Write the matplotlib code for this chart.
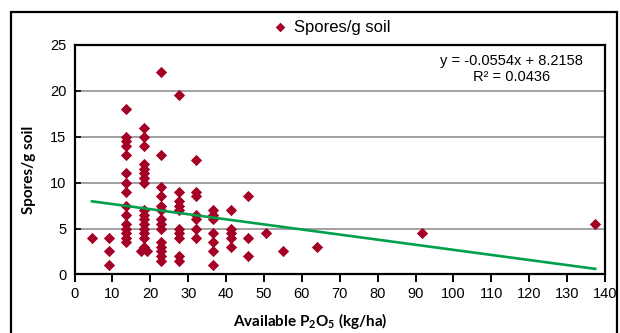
import matplotlib
matplotlib.use("Agg")
import matplotlib.pyplot as plt
from matplotlib.patches import Rectangle
import numpy as np

# available P2O5 (kg/ha) groups and spore counts
p2o5_levels = [4.6, 9.2, 13.7, 18.3, 22.9, 27.5, 32.0, 36.6, 41.2, 45.8,
               50.4, 55.0, 64.1, 91.6, 137.4]
spores_by_level = [
    [4],
    [4, 2.5, 1],
    [18, 15, 14.5, 14, 13, 11, 10, 9, 7.5, 6.5, 5.5, 5, 4.5, 4, 3.5],
    [16, 15, 14, 12, 11.5, 11, 10.5, 10, 7, 6.5, 6, 5.5, 5, 4.5, 4, 3],
    [22, 13, 9.5, 8.5, 7.5, 7, 6, 5.5, 5, 3.5, 3, 2.5, 2, 1.5],
    [19.5, 9, 8, 7.5, 7, 5, 4.5, 4, 2, 1.5],
    [12.5, 9, 8.5, 6.5, 6, 5, 4],
    [7, 6.5, 6, 4.5, 3.5, 2.5, 1],
    [7, 5, 4.5, 4, 3],
    [8.5, 4, 2],
    [4.5],
    [2.5],
    [3],
    [4.5],
    [5.5],
]
# the pair sitting side by side at the bottom of the 18 kg/ha column
extra_x = [17.6, 19.2]
extra_y = [2.5, 2.5]

slope = -0.0554
intercept = 8.2158
r_squared = 0.0436

x_vals = []
y_vals = []
for lvl, ys in zip(p2o5_levels, spores_by_level):
    x_vals += [lvl] * len(ys)
    y_vals += ys
x_vals += extra_x
y_vals += extra_y
x_vals = np.array(x_vals)
y_vals = np.array(y_vals)

marker_color = "#A50026"
line_color = "#00A04A"

plt.rcParams["mathtext.fontset"] = "custom"
plt.rcParams["mathtext.rm"] = "Lato:bold"
plt.rcParams["mathtext.default"] = "rm"

fig = plt.figure(figsize=(6.2, 3.33), dpi=100)
ax = fig.add_axes([0.1203, 0.176, 0.8555, 0.689])

ax.scatter(x_vals, y_vals, marker="D", s=33, color=marker_color,
           linewidths=0, zorder=3, label="Spores/g soil")

fit_x = np.array([x_vals.min(), x_vals.max()])
ax.plot(fit_x, slope * fit_x + intercept, color=line_color, lw=1.9, zorder=4)

ax.set_xlim(0, 140)
ax.set_ylim(0, 25)
ax.set_xticks(range(0, 141, 10))
ax.set_yticks(range(0, 26, 5))
ax.yaxis.grid(True, color="#9a9a9a", lw=1.3)
ax.set_axisbelow(True)
for s in ax.spines.values():
    s.set_linewidth(1.6)
    s.set_color("black")
ax.tick_params(axis="x", direction="out", length=6, width=1.4, labelsize=10.5,
               pad=3)
ax.tick_params(axis="y", direction="in", length=4, width=1.2, labelsize=10.5,
               pad=6)
for lab in ax.get_xticklabels() + ax.get_yticklabels():
    lab.set_fontfamily("Liberation Sans")

# axis titles sit where Excel left them, not exactly centred on the axes
fig.text(310 / 620, 1 - 321 / 333, "Available P$_2$O$_5$ (kg/ha)",
         ha="center", va="center", fontsize=11, fontweight="bold",
         fontfamily="Lato")
fig.text(29 / 620, 1 - 170 / 333, "Spores/g soil", rotation=90,
         ha="center", va="center", fontsize=11, fontweight="bold",
         fontfamily="Lato")

ax.text(0.823, 0.96, f"y = {slope}x + {intercept}\nR² = {r_squared}",
        transform=ax.transAxes, ha="center", va="top", fontsize=10.5,
        fontfamily="Liberation Sans", linespacing=1.2)

fig.legend(loc="center", bbox_to_anchor=(0.534, 0.918), frameon=False,
           prop={"family": "Liberation Sans", "size": 12},
           handletextpad=0.3, markerscale=0.85, handlelength=1.0)

fig.patches.append(Rectangle((11 / 620, -0.1), 606 / 620, 1.1 - 12 / 333,
                             transform=fig.transFigure, fill=False,
                             edgecolor="black", lw=1.6, clip_on=False))

fig.savefig("out.png", dpi=100)
